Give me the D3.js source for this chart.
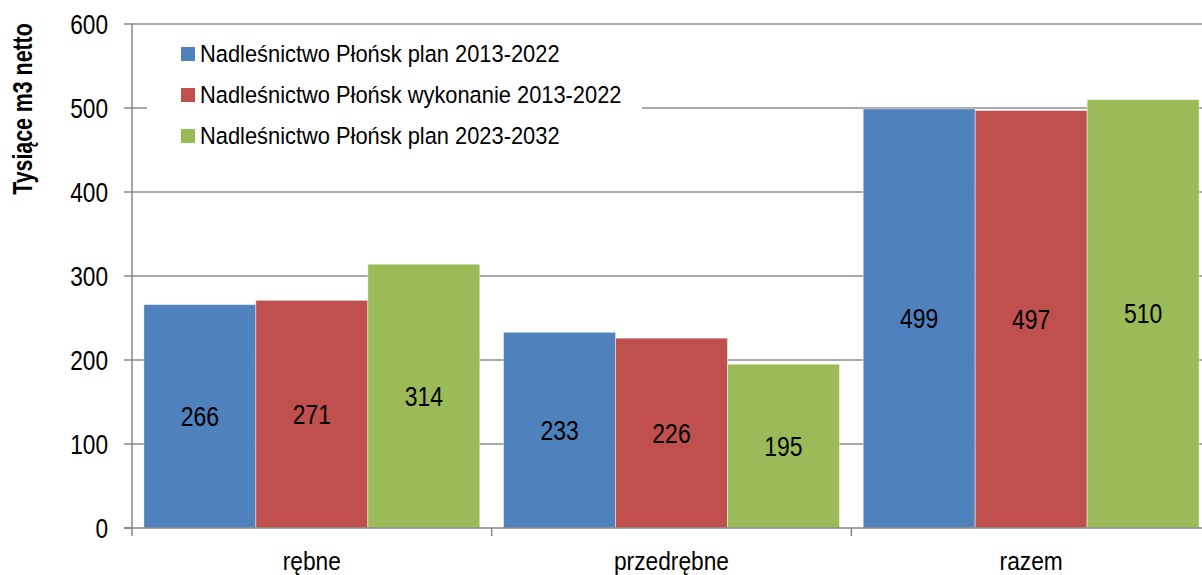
<!DOCTYPE html>
<html><head><meta charset="utf-8">
<script src="https://cdn.jsdelivr.net/npm/d3@7"></script>
<style>body{margin:0;background:#fff}svg{display:block}text{font-family:"Liberation Sans",Arial,sans-serif;fill:#000}</style>
</head><body>
<svg id="c" width="1202" height="575"></svg>
<script>
const categories = ["rębne", "przedrębne", "razem"];
const seriesNames = ["Nadleśnictwo Płońsk plan 2013-2022", "Nadleśnictwo Płońsk wykonanie 2013-2022", "Nadleśnictwo Płońsk plan 2023-2032"];
const planOld = [266, 233, 499];
const wykonanie = [271, 226, 497];
const planNew = [314, 195, 510];
const yTicks = [0, 100, 200, 300, 400, 500, 600];
const colors = ["#4F81BD", "#C0504D", "#9BBB59"];
const yTitle = "Tysiące m3 netto";

(function () {
const series = [planOld, wykonanie, planNew];
const svg = d3.select("#c");
const pLeft = 132, pRight = 1211, pTop = 24, pBottom = 528;

const x = d3.scaleBand().domain(categories).range([pLeft, pRight]).paddingInner(0).paddingOuter(0);
const inner = d3.scaleBand().domain(d3.range(series.length)).range([0, x.bandwidth()]).paddingInner(0).paddingOuter(0.106);
const y = d3.scaleLinear().domain([0, 600]).range([pBottom, pTop]);

function ntext(g, tx, ty, str, size, sx, anchor, weight, rot) {
  const t = g.append("text")
    .attr("transform", `translate(${tx},${ty})` + (rot ? ` rotate(${rot})` : "") + ` scale(${sx},1)`)
    .attr("font-size", size).attr("text-anchor", anchor || "start")
    .attr("dominant-baseline", "central")
    .text(str);
  if (weight) t.attr("font-weight", weight);
  return t;
}

// gridlines
svg.append("g").selectAll("line").data(yTicks.filter(d => d > 0)).join("line")
  .attr("x1", pLeft).attr("x2", 1202).attr("y1", d => y(d)).attr("y2", d => y(d))
  .attr("stroke", "#8c8c8c").attr("stroke-width", 1.5);

// legend box (white, covers gridline)
const lg = svg.append("g");
lg.append("rect").attr("x", 147).attr("y", 30).attr("width", 495).attr("height", 130).attr("fill", "#fff");
seriesNames.forEach((n, i) => {
  const cy = 54 + i * 41;
  lg.append("rect").attr("x", 181).attr("y", cy - 7).attr("width", 14).attr("height", 14).attr("fill", colors[i]);
  ntext(lg, 200, cy, n, 23.5, 0.93, "start");
});

// bars
const bars = svg.append("g");
series.forEach((vals, si) => {
  bars.selectAll(null).data(vals).join("rect")
    .attr("x", (d, i) => x(categories[i]) + inner(si))
    .attr("width", inner.bandwidth())
    .attr("y", d => y(d))
    .attr("height", d => y(0) - y(d))
    .attr("fill", colors[si])
    .attr("stroke", "rgba(255,255,255,0.45)").attr("stroke-width", 1);
  vals.forEach((d, i) => {
    ntext(bars, x(categories[i]) + inner(si) + inner.bandwidth() / 2, (y(d) + y(0)) / 2, String(d), 27, 0.85, "middle");
  });
});

// axes
const ax = svg.append("g");
ax.append("line").attr("x1", pLeft).attr("x2", pLeft).attr("y1", pTop).attr("y2", pBottom + 8).attr("stroke", "#868686").attr("stroke-width", 1.5);
ax.append("line").attr("x1", pLeft - 8).attr("x2", 1202).attr("y1", pBottom).attr("y2", pBottom).attr("stroke", "#868686").attr("stroke-width", 1.5);
yTicks.forEach(t => {
  ax.append("line").attr("x1", pLeft - 8).attr("x2", pLeft).attr("y1", y(t)).attr("y2", y(t)).attr("stroke", "#868686").attr("stroke-width", 1.5);
  ntext(ax, 108, y(t), String(t), 27, 0.84, "end");
});
categories.forEach((c, i) => {
  const bx = x(c) + x.bandwidth();
  if (i < categories.length - 1)
    ax.append("line").attr("x1", bx).attr("x2", bx).attr("y1", pBottom).attr("y2", pBottom + 8).attr("stroke", "#868686").attr("stroke-width", 1.5);
  ntext(ax, x(c) + x.bandwidth() / 2, 561, c, 25, 0.91, "middle");
});

// y title
ntext(svg, 23, 109, yTitle, 27, 0.79, "middle", "bold", -90);
})();
</script>
</body></html>
